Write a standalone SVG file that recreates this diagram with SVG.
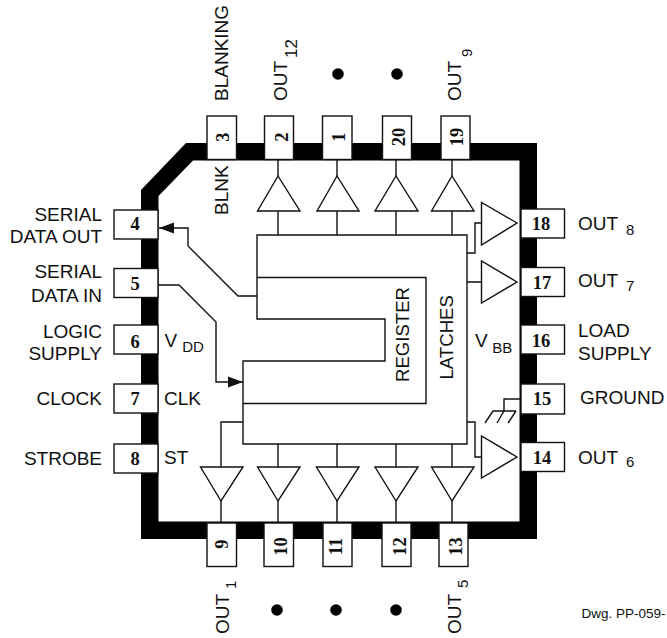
<svg xmlns="http://www.w3.org/2000/svg" width="667" height="638" viewBox="0 0 667 638">
<style>
.pin{fill:#fff;stroke:#111;stroke-width:1.4}
.ln{fill:none;stroke:#111;stroke-width:1.4}
.tri{fill:#fff;stroke:#111;stroke-width:1.4}
.n{font:bold 18.5px "Liberation Serif",serif;fill:#111;text-anchor:middle}
.t{font:19px "Liberation Sans",Arial,sans-serif;fill:#111}
.r{font-size:18.6px}
.s{font:15px "Liberation Sans",Arial,sans-serif;fill:#111}
.e{text-anchor:end}
</style>
<defs>
<marker id="ah" markerUnits="userSpaceOnUse" markerWidth="15" markerHeight="12" refX="15" refY="6" orient="auto"><path d="M0 0.500L15 6L0 11.500Z" fill="#111"/></marker>
</defs>
<g id="package"><path fill-rule="evenodd" fill="#000" d="M141 190L186 143H537V539H141ZM158.500 196V521.500H519.500V160.500H193Z"/></g>
<g id="connectors" class="ln">
<path class="ln" d="M257 235H467V444H243V361H385V319H257ZM257 277.500H426V403.500H243"/>
<path class="ln" d="M278 160V176M278 211V235M337 160V176M337 211V235M396 160V176M396 211V235M452 160V176M452 211V235"/>
<path class="ln" d="M278 444V467M278 501V523M337 444V467M337 501V523M396 444V467M396 501V523M452 444V467M452 501V523M221 501V523"/>
<path class="ln" d="M243 422H221V467"/>
<path class="ln" d="M467 253H475V223H481M467 282H481M467 422H475V457H481"/>
<path class="ln" d="M257 296H238L188 246V228H159" marker-end="url(#ah)"/>
<path class="ln" d="M158 285H179L216 322V382H243" marker-end="url(#ah)"/>
<path class="ln" d="M520 399H504V411M493 411H516M493 411L485 423M504 411L497 423M516 411L508 423"/>
</g>
<g id="buffers">
<path class="tri" d="M278 176L257.500 211H300ZM337 176L317 211H359ZM396 176L375 211H418ZM452 176L431.500 211H474Z"/>
<path class="tri" d="M221 501L200.500 467H243ZM278 501L257.500 467H300ZM337 501L316.500 467H359ZM396 501L375 467H418ZM452 501L431.500 467H474Z"/>
<path class="tri" d="M517 223L481.500 202.500V245ZM517 282L481.500 261V303ZM517 457L481.500 436V478Z"/>
</g>
<g id="pin3"><rect class="pin" x="207" y="116" width="29.500" height="43.500"/><text class="n" transform="translate(229,137) rotate(-90)">3</text></g>
<g id="pin2"><rect class="pin" x="264.500" y="116" width="29" height="43.500"/><text class="n" transform="translate(288,137) rotate(-90)">2</text></g>
<g id="pin1"><rect class="pin" x="322.500" y="116" width="29.500" height="43.500"/><text class="n" transform="translate(345,137) rotate(-90)">1</text></g>
<g id="pin20"><rect class="pin" x="382.500" y="116" width="29" height="43.500"/><text class="n" transform="translate(405,137) rotate(-90)">20</text></g>
<g id="pin19"><rect class="pin" x="441" y="116" width="29" height="43.500"/><text class="n" transform="translate(463,137) rotate(-90)">19</text></g>
<g id="pin4"><rect class="pin" x="114" y="210" width="44" height="29"/><text class="n" x="135" y="230">4</text></g>
<g id="pin5"><rect class="pin" x="114" y="268.500" width="44" height="29"/><text class="n" x="135" y="290">5</text></g>
<g id="pin6"><rect class="pin" x="114" y="325" width="44" height="29"/><text class="n" x="135" y="347.500">6</text></g>
<g id="pin7"><rect class="pin" x="114" y="384" width="44" height="29"/><text class="n" x="135" y="405">7</text></g>
<g id="pin8"><rect class="pin" x="114" y="444" width="44" height="29"/><text class="n" x="135" y="465">8</text></g>
<g id="pin18"><rect class="pin" x="521" y="209" width="43.500" height="29"/><text class="n" x="541" y="230">18</text></g>
<g id="pin17"><rect class="pin" x="521" y="267.500" width="43.500" height="29"/><text class="n" x="542" y="289">17</text></g>
<g id="pin16"><rect class="pin" x="521" y="325" width="43.500" height="29"/><text class="n" x="541" y="347">16</text></g>
<g id="pin15"><rect class="pin" x="521" y="384" width="43.500" height="30"/><text class="n" x="542" y="405">15</text></g>
<g id="pin14"><rect class="pin" x="521" y="442.500" width="43.500" height="29"/><text class="n" x="542" y="464">14</text></g>
<g id="pin9"><rect class="pin" x="207" y="523" width="29.500" height="43.500"/><text class="n" transform="translate(228,544) rotate(-90)">9</text></g>
<g id="pin10"><rect class="pin" x="264" y="523" width="29.500" height="43.500"/><text class="n" transform="translate(287,546.500) rotate(-90)">10</text></g>
<g id="pin11"><rect class="pin" x="323" y="523" width="29" height="43.500"/><text class="n" transform="translate(342,546.500) rotate(-90)">11</text></g>
<g id="pin12"><rect class="pin" x="382" y="523" width="29" height="43.500"/><text class="n" transform="translate(406,546.500) rotate(-90)">12</text></g>
<g id="pin13"><rect class="pin" x="439" y="523" width="29" height="43.500"/><text class="n" transform="translate(462,546.500) rotate(-90)">13</text></g>
<g id="labels">
<text class="t" transform="translate(228,101) rotate(-90)">BLANKING</text>
<text class="t" transform="translate(228,215) rotate(-90)">BLNK</text>
<text class="t" transform="translate(287,101) rotate(-90)">OUT<tspan class="s" style="font-size:17px" dx="3" dy="10">12</tspan></text>
<text class="t" transform="translate(461,101) rotate(-90)">OUT<tspan class="s" dx="4" dy="11">9</tspan></text>
<circle cx="338" cy="74" r="5.800" fill="#000"/><circle cx="397" cy="74" r="5.800" fill="#000"/>
<text class="t e" x="102" y="221">SERIAL</text><text class="t e" x="102" y="243">DATA OUT</text>
<text class="t e" x="102" y="278">SERIAL</text><text class="t e" x="102" y="302">DATA IN</text>
<text class="t e" x="102" y="337.500">LOGIC</text><text class="t e" x="102" y="360">SUPPLY</text>
<text class="t e" x="102" y="405">CLOCK</text><text class="t e" x="102" y="465">STROBE</text>
<text class="t" x="164.500" y="346.500">V<tspan class="s" dx="5" dy="5">DD</tspan></text>
<text class="t" x="164" y="405">CLK</text><text class="t" x="164" y="464">ST</text>
<text class="t" x="578" y="229.500">OUT<tspan class="s" dx="8" dy="5">8</tspan></text>
<text class="t" x="578" y="287">OUT<tspan class="s" dx="8" dy="4">7</tspan></text>
<text class="t" x="578" y="336.500">LOAD</text><text class="t" x="578" y="360">SUPPLY</text>
<text class="t" x="580" y="404">GROUND</text>
<text class="t" x="578" y="463.500">OUT<tspan class="s" dx="8" dy="3">6</tspan></text>
<text class="t" x="475" y="346.500">V<tspan class="s" dx="4.500" dy="6">BB</tspan></text>
<text class="t r" transform="translate(408.500,382) rotate(-90)">REGISTER</text>
<text class="t r" transform="translate(453,379.500) rotate(-90)">LATCHES</text>
<text class="t" transform="translate(228.500,634) rotate(-90)">OUT<tspan class="s" dx="5" dy="7">1</tspan></text>
<text class="t" transform="translate(461,634) rotate(-90)">OUT<tspan class="s" dx="6" dy="7">5</tspan></text>
<circle cx="277" cy="610" r="5.800" fill="#000"/><circle cx="336" cy="610" r="5.800" fill="#000"/><circle cx="396" cy="610" r="5.800" fill="#000"/>
<text x="581.500" y="618" style="font:13.500px 'Liberation Sans',Arial,sans-serif;fill:#111">Dwg. PP-059-</text>
</g>
</svg>
